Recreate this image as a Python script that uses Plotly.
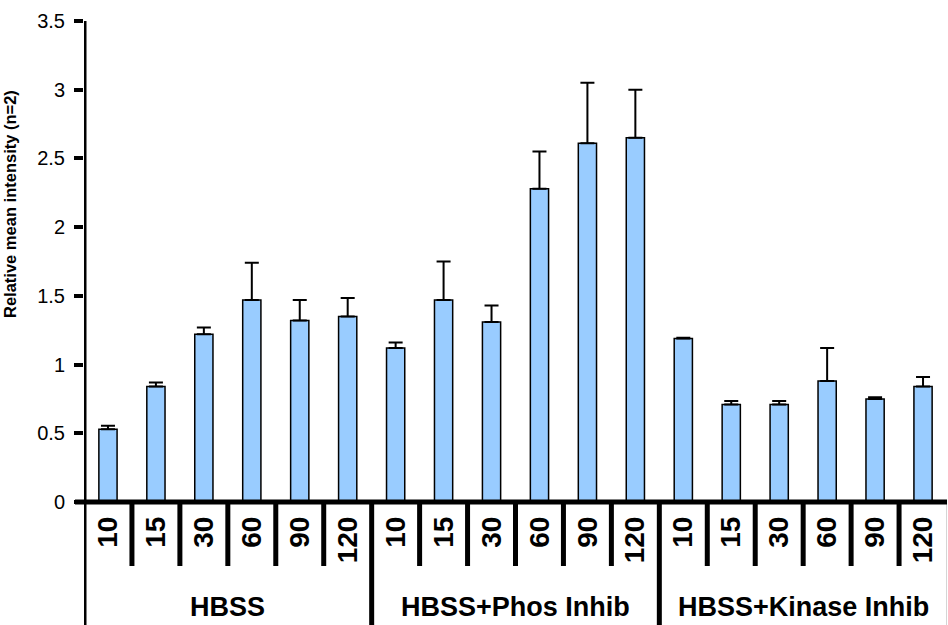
import plotly.graph_objects as go

# Treatment groups and sampling times (min)
groups = ["HBSS", "HBSS+Phos Inhib", "HBSS+Kinase Inhib"]
times = ["10", "15", "30", "60", "90", "120"]

# Relative mean intensity per bar (group-major order) and upper error
hbss_mean = [0.53, 0.84, 1.22, 1.47, 1.32, 1.35]
hbss_err = [0.025, 0.03, 0.05, 0.27, 0.15, 0.135]
phos_mean = [1.12, 1.47, 1.31, 2.28, 2.61, 2.65]
phos_err = [0.04, 0.28, 0.12, 0.27, 0.44, 0.35]
kinase_mean = [1.19, 0.71, 0.71, 0.88, 0.75, 0.84]
kinase_err = [0.005, 0.025, 0.025, 0.24, 0.012, 0.07]

means = hbss_mean + phos_mean + kinase_mean
errs = hbss_err + phos_err + kinase_err
labels = times * len(groups)
xpos = list(range(len(means)))
n_per = len(times)

W, H = 948, 625
ML, MR, MT, MB = 84, 1, 21, 123
plot_h = H - MT - MB

def px_to_paper(py):
    """Convert a page y pixel to paper y coordinate."""
    return (H - MB - py) / plot_h

FONT = "Liberation Sans, Arial, sans-serif"
AXIS_W = 5

fig = go.Figure(
    go.Bar(
        x=xpos,
        y=means,
        width=0.38,
        marker=dict(color="#99CCFF", line=dict(color="black", width=1.5)),
        error_y=dict(
            type="data",
            symmetric=False,
            array=errs,
            arrayminus=[0] * len(errs),
            color="black",
            thickness=2,
            width=7,
        ),
        hoverinfo="x+y",
    )
)

shapes = []
# value axis: vertical line through the plot, continued down past the labels
shapes.append(dict(type="line", xref="x", yref="paper", x0=-0.5, x1=-0.5,
                   y0=1, y1=px_to_paper(H + 5),
                   line=dict(color="black", width=AXIS_W)))
# category separators below the axis: short between times, full height between groups
for k in range(1, len(means) + 1):
    xb = k - 0.5
    if k == len(means):
        shapes.append(dict(type="line", xref="x", yref="paper", x0=xb, x1=xb,
                           y0=0, y1=px_to_paper(H + 5),
                           line=dict(color="#aaaaaa", width=1)))
    elif k % n_per == 0:
        shapes.append(dict(type="line", xref="x", yref="paper", x0=xb, x1=xb,
                           y0=0, y1=px_to_paper(H + 5),
                           line=dict(color="black", width=AXIS_W)))
    else:
        shapes.append(dict(type="line", xref="x", yref="paper", x0=xb, x1=xb,
                           y0=0, y1=px_to_paper(566),
                           line=dict(color="black", width=AXIS_W)))
# horizontal category axis line
shapes.append(dict(type="line", xref="paper", yref="paper",
                   x0=-9 / (W - ML - MR), x1=1, y0=0, y1=0,
                   line=dict(color="black", width=AXIS_W)))

annotations = []
for gi, g in enumerate(groups):
    annotations.append(dict(
        text="<b>%s</b>" % g, xref="x", yref="paper",
        x=gi * n_per + (n_per - 1) / 2, y=px_to_paper(607),
        xanchor="center", yanchor="middle", showarrow=False,
        font=dict(family=FONT, size=27, color="black"),
    ))
annotations.append(dict(
    text="<b>Relative mean intensity (n=2)</b>", xref="paper", yref="paper",
    x=(10 - ML) / (W - ML - MR), y=px_to_paper(204),
    xanchor="center", yanchor="middle", textangle=-90, showarrow=False,
    font=dict(family=FONT, size=16.5, color="black"),
))

fig.update_layout(
    width=W, height=H,
    margin=dict(l=ML, r=MR, t=MT, b=MB, pad=0),
    paper_bgcolor="white", plot_bgcolor="white",
    showlegend=False,
    shapes=shapes,
    annotations=annotations,
    xaxis=dict(
        range=[-0.5, len(means) - 0.5],
        tickmode="array", tickvals=xpos, ticktext=["<b>%s</b>" % t for t in labels],
        tickangle=-90, ticks="", showgrid=False, zeroline=False,
        showline=False,
        tickfont=dict(family=FONT, size=28, color="black"),
        ticklabelstandoff=8,
    ),
    yaxis=dict(
        range=[0, 3.5], dtick=0.5, tick0=0,
        ticks="outside", ticklen=9, tickwidth=4, tickcolor="black",
        showgrid=False, zeroline=False,
        showline=False,
        tickfont=dict(family=FONT, size=20, color="black"),
        ticklabelstandoff=5,
    ),
)

fig.write_html("out.html")
